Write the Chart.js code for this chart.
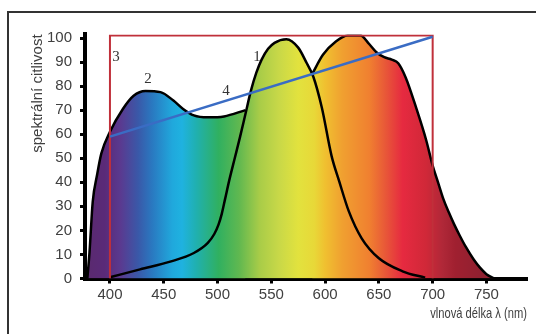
<!DOCTYPE html>
<html>
<head>
<meta charset="utf-8">
<script src="https://cdn.jsdelivr.net/npm/chart.js@4.4.0/dist/chart.umd.min.js"></script>
<style>
  html, body { margin: 0; padding: 0; background: #fff; }
  #wrap { position: relative; width: 536px; height: 334px; overflow: hidden; }
  #frame { position: absolute; left: 7px; top: 11px; width: 600px; height: 400px; border-top: 2px solid #333; border-left: 2px solid #333; }
  #myChart { position: absolute; left: 0; top: 0; }
</style>
</head>
<body>
<div id="wrap">
  <div id="frame"></div>
  <canvas id="myChart" width="536" height="334"></canvas>
</div>
<script>
var xTicks = [400, 450, 500, 550, 600, 650, 700, 750];
var yTicks = [0, 10, 20, 30, 40, 50, 60, 70, 80, 90, 100];
var xTitle = "vlnová délka λ (nm)";

// curve 2 (left, blue part)
var wl2 = [379, 381, 384, 388, 392, 400, 412, 422, 433, 447, 459, 468, 478, 491, 506, 526];
var val2 = [0, 11, 32, 43, 52, 61, 70.5, 76, 78, 77.5, 74, 70.5, 67.8, 67, 67.4, 70];

// curve 1 (green peak)
var wl1 = [400, 428, 456, 478, 491, 497, 501, 504, 507, 511, 516, 521, 526, 531, 536, 541, 547, 553, 564, 575, 583, 589, 597, 606, 613, 622, 634, 650, 672, 693];
var val1 = [0.5, 3.8, 7, 10.6, 14.8, 18.5, 22.5, 27, 33, 41, 50, 59, 68.5, 78, 85.5, 91, 95.5, 98, 99.5, 96, 89.5, 84, 71, 51, 40.6, 28, 16.7, 8.4, 3, 0.3];

// right curve (orange/red)
var wl3 = [588, 598, 610, 621, 633, 640, 648, 655, 662, 668, 675, 685, 694, 700, 705, 710, 715, 720, 725, 731, 738, 744, 750, 757];
var val3 = [85, 93, 98.5, 101, 101, 98, 94, 92, 91, 89.5, 83.5, 70.5, 57.5, 47, 40, 33, 27.5, 22.5, 18, 13, 8, 4.5, 1.8, 0];

// line 4 and frame 3
var wl4 = [400, 700];
var val4 = [59, 100.5];
var rectWl = [400, 400, 700, 700];
var rectVal = [0, 101, 101, 0];

// number labels
var curveNames = ["1", "2", "3", "4"];
var curveLabelWl = [536.7, 435.3, 405.6, 507.8];
var curveLabelVal = [92.1, 82.9, 92.1, 78];

// spectrum colours
var specWl = [377, 395, 410, 426, 439, 458, 467, 480, 501, 520, 539, 557, 575, 590, 600, 616, 641, 656, 672, 694, 709, 721, 745];
var specColor = ["#5a2a6e", "#5a2a78", "#5a3a90", "#3a58a8", "#2a78c0", "#20a8dc", "#1fb2e0", "#20b0b0", "#30b060", "#60b850",
  "#a8cc48", "#c8d848", "#e2e23e", "#e8d838", "#f0c030", "#f0a030", "#f08030", "#e85838", "#e62a40", "#d02838",
  "#b02838", "#a02030", "#902030"];

function pts(xs, ys) {
  return xs.map(function (x, i) { return { x: x, y: ys[i] }; });
}

function spectrum(c) {
  var chart = c.chart;
  if (!chart.chartArea) return null;
  var xs = chart.scales.x;
  var a = specWl[0], b = specWl[specWl.length - 1];
  var g = chart.ctx.createLinearGradient(xs.getPixelForValue(a), 0, xs.getPixelForValue(b), 0);
  specWl.forEach(function (w, i) { g.addColorStop((w - a) / (b - a), specColor[i]); });
  return g;
}

var curveLabels = {
  id: "curveLabels",
  afterDatasetsDraw: function (chart) {
    var c = chart.ctx, x = chart.scales.x, y = chart.scales.y;
    c.save();
    c.font = '15px "Liberation Serif", serif';
    c.fillStyle = "#333";
    c.textAlign = "center";
    c.textBaseline = "middle";
    curveNames.forEach(function (t, i) {
      c.fillText(t, x.getPixelForValue(curveLabelWl[i]), y.getPixelForValue(curveLabelVal[i]));
    });
    c.restore();
  },
  // narrow axis title, right aligned at the end of the x axis
  afterDraw: function (chart) {
    var c = chart.ctx, x = chart.scales.x;
    c.save();
    c.translate(x.right, x.bottom - 9);
    c.scale(0.77, 1);
    c.font = '14.5px "Liberation Sans", sans-serif';
    c.fillStyle = "#404040";
    c.textAlign = "right";
    c.textBaseline = "middle";
    c.fillText(xTitle, 0, 0);
    c.restore();
  }
};

function curve(xs, ys) {
  return {
    data: pts(xs, ys),
    borderColor: "#000",
    borderWidth: 2.5,
    backgroundColor: spectrum,
    fill: "origin",
    pointRadius: 0,
    cubicInterpolationMode: "monotone"
  };
}

var ctx = document.getElementById("myChart");
let myChart = new Chart(ctx, {
  type: "line",
  data: {
    datasets: [
      { data: pts(wl4, val4), borderColor: "#3a6cc4", borderWidth: 2.5, pointRadius: 0, fill: false, tension: 0 },
      { data: pts(rectWl, rectVal), borderColor: "#c0303a", borderWidth: 2, pointRadius: 0, fill: false, tension: 0 },
      curve(wl1, val1),
      curve(wl3, val3),
      curve(wl2, val2)
    ]
  },
  options: {
    responsive: false,
    animation: false,
    layout: { padding: { left: 0, top: 34.4, right: 9, bottom: 11.5 } },
    plugins: {
      legend: { display: false },
      tooltip: { enabled: false },
      filler: { drawTime: "beforeDatasetsDraw" }
    },
    scales: {
      x: {
        type: "linear",
        min: 376.8,
        max: 787.7,
        afterBuildTicks: function (s) { s.ticks = xTicks.map(function (v) { return { value: v }; }); },
        afterFit: function (s) { s.height = 44; },
        grid: { drawOnChartArea: false, tickLength: 5, tickWidth: 3, tickColor: "#000" },
        border: { color: "#000", width: 4 },
        ticks: { color: "#404040", font: { family: "Liberation Sans", size: 15 }, padding: 2, maxRotation: 0, autoSkip: false }
      },
      y: {
        min: 0,
        max: 101.5,
        afterBuildTicks: function (s) { s.ticks = yTicks.map(function (v) { return { value: v }; }); },
        afterFit: function (s) { s.width = 85; },
        grid: { drawOnChartArea: false, tickLength: 5, tickWidth: 3, tickColor: "#000" },
        border: { color: "#000", width: 4 },
        ticks: { color: "#404040", font: { family: "Liberation Sans", size: 15 }, padding: 8, autoSkip: false },
        title: {
          display: true, text: "spektrální citlivost", align: "end", color: "#404040",
          font: { family: "Liberation Sans", size: 15 }, padding: { top: 28.6, bottom: 0 }
        }
      }
    }
  },
  plugins: [curveLabels]
});
</script>
</body>
</html>
